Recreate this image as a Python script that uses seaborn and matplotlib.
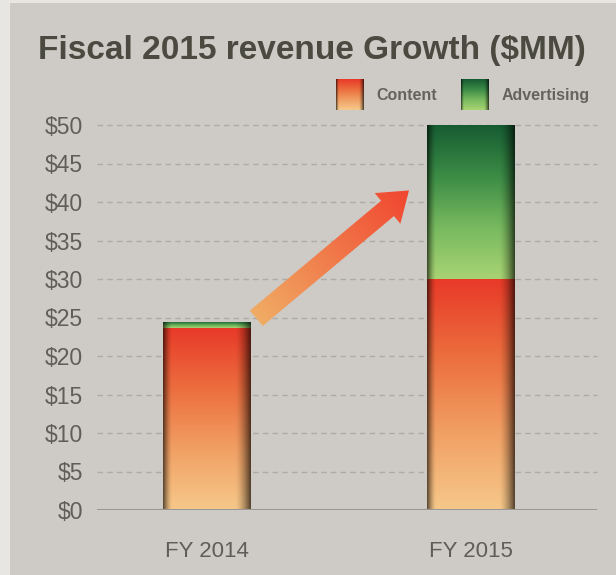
import numpy as np
import matplotlib
matplotlib.use("Agg")
import matplotlib.pyplot as plt
import matplotlib.patches as mpatches
from matplotlib.transforms import IdentityTransform, Bbox, TransformedBbox
from matplotlib.image import BboxImage
from matplotlib.legend_handler import HandlerBase
import seaborn as sns
import pandas as pd

# Revenue by fiscal year ($MM)
years = ["FY 2014", "FY 2015"]
content = [23.6, 30.0]
advertising = [0.8, 20.0]
y_ticks = [0, 5, 10, 15, 20, 25, 30, 35, 40, 45, 50]
y_tick_labels = ["$" + str(v) for v in y_ticks]
series_names = ["Content", "Advertising"]

totals = [c + a for c, a in zip(content, advertising)]
df = pd.DataFrame({"year": years, "content": content, "total": totals})

sns.set_theme(style="white")
plt.rcParams["font.family"] = ["Liberation Sans", "DejaVu Sans"]

PANEL = "#cecac6"
fig = plt.figure(figsize=(6.16, 5.75), dpi=100, facecolor="#e8e6e3")
# paper panel behind the chart
fig.patches.append(mpatches.Rectangle((10 / 616, 0), 1, 1 - 3 / 575,
                                      transform=fig.transFigure,
                                      facecolor=PANEL, edgecolor="none", zorder=-10))

ax = fig.add_axes([97 / 616, 1 - 510 / 575, (597 - 97) / 616, (510 - 125) / 575])
ax.set_facecolor("none")

# colour ramps (top -> bottom)
content_stops = np.array([[232, 58, 40], [236, 110, 62], [241, 160, 100], [246, 200, 138]]) / 255
advert_stops = np.array([[22, 92, 50], [60, 140, 70], [120, 185, 95], [168, 212, 115]]) / 255


def ramp(stops, n):
    t = np.linspace(0, 1, n)
    pos = np.linspace(0, 1, len(stops))
    return np.stack([np.interp(t, pos, stops[:, k]) for k in range(3)], axis=1)


def bar_image(stops, h=200, w=120):
    col = ramp(stops, h)[:, None, :]
    x = np.linspace(0, 1, w)
    shade = 1 - 0.62 * np.clip((0.10 - x) / 0.10, 0, 1) ** 1.5 \
              - 0.66 * np.clip((x - 0.82) / 0.18, 0, 1) ** 1.6
    img = col * shade[None, :, None]
    return np.clip(img, 0, 1)


sns.barplot(data=df, x="year", y="total", color="#3c8c46", width=0.333,
            saturation=1, ax=ax, zorder=3)
sns.barplot(data=df, x="year", y="content", color="#e86a3e", width=0.333,
            saturation=1, ax=ax, zorder=3)

patches = list(ax.patches)
n = len(years)
adv_patches, con_patches = patches[:n], patches[n:]
for i, p in enumerate(adv_patches):
    x0, w = p.get_x(), p.get_width()
    p.set_facecolor("none")
    p.set_edgecolor("none")
    im = ax.imshow(bar_image(advert_stops), extent=(x0, x0 + w, content[i], totals[i]),
                   aspect="auto", interpolation="bilinear", zorder=3.5)
    im.set_clip_path(p)
for i, p in enumerate(con_patches):
    x0, w = p.get_x(), p.get_width()
    p.set_facecolor("none")
    p.set_edgecolor("none")
    im = ax.imshow(bar_image(content_stops), extent=(x0, x0 + w, 0, content[i]),
                   aspect="auto", interpolation="bilinear", zorder=4)
    im.set_clip_path(p)

ax.set_xlim(-0.417, 1 + (597 - 471) / 264)
ax.set_ylim(0, 50)
ax.set_yticks(y_ticks)
ax.set_yticklabels(y_tick_labels)
ax.tick_params(axis="y", length=0, pad=10, labelsize=16.5, labelcolor="#5f5e5a")
ax.tick_params(axis="x", length=0, pad=22, labelsize=16, labelcolor="#5f5e5a")
ax.set_xlabel("")
ax.set_ylabel("")
for s in ax.spines.values():
    s.set_visible(False)

for v in y_ticks[1:]:
    ax.axhline(v, color="#aeaba7", lw=1.0, ls=(0, (4, 3)), zorder=1, clip_on=False)
ax.axhline(0, color="#9a9794", lw=2.2, zorder=5)

# growth arrow from the FY 2014 bar towards FY 2015 (display coordinates)
tail = ax.transData.transform((0 + 0.333 / 2 + 0.02, totals[0] + 0.5))
tip = ax.transData.transform((0.765, 41.5))
d = tip - tail
arrow = mpatches.FancyArrow(tail[0], tail[1], d[0], d[1], width=20, head_width=40,
                            head_length=28, length_includes_head=True,
                            transform=IdentityTransform(), facecolor="none",
                            edgecolor="none")
fig.add_artist(arrow)
inv = ax.transData.inverted()
lo = inv.transform(tail - 40)
hi = inv.transform(tip + 40)
H, W = 160, 200
xs_d = np.linspace(tail[0] - 40, tip[0] + 40, W)
ys_d = np.linspace(tip[1] + 40, tail[1] - 40, H)
XX, YY = np.meshgrid(xs_d, ys_d)
u = d / np.hypot(*d)
t = np.clip(((XX - tail[0]) * u[0] + (YY - tail[1]) * u[1]) / np.hypot(*d), 0, 1)
c0 = np.array([240, 172, 100]) / 255
c1 = np.array([240, 70, 48]) / 255
arr_img = c0[None, None, :] * (1 - t[..., None]) + c1[None, None, :] * t[..., None]
aim = ax.imshow(arr_img, extent=(lo[0], hi[0], lo[1], hi[1]), aspect="auto",
                interpolation="bilinear", zorder=6)
aim.set_clip_path(arrow)
ax.set_xlim(-0.417, 1 + (597 - 471) / 264)
ax.set_ylim(0, 50)


# gradient legend swatches
class GradientHandler(HandlerBase):
    def __init__(self, stops):
        super().__init__()
        self.stops = stops

    def create_artists(self, legend, orig_handle, xdescent, ydescent, width, height,
                       fontsize, trans):
        bb = TransformedBbox(Bbox.from_bounds(-xdescent, -ydescent - 6, width, height + 12),
                             trans)
        img = BboxImage(bb, interpolation="bilinear")
        img.set_data(bar_image(self.stops, 60, 40))
        return [img]


h_content = mpatches.Patch(color="#e86a3e", label=series_names[0])
h_adv = mpatches.Patch(color="#3c8c46", label=series_names[1])
leg = fig.legend(handles=[h_content, h_adv], labels=series_names, ncol=2,
                 loc="center right", bbox_to_anchor=(598 / 616, 1 - 95 / 575),
                 frameon=False, fontsize=11.5, handlelength=1.75, handleheight=1.0,
                 handletextpad=0.8, columnspacing=1.5, borderpad=0,
                 handler_map={h_content: GradientHandler(content_stops),
                              h_adv: GradientHandler(advert_stops)})
for txt in leg.get_texts():
    txt.set_color("#65635f")
    txt.set_fontweight("bold")

fig.text(0.5 + 4 / 616, 1 - 50 / 575, "Fiscal 2015 revenue Growth ($MM)",
         ha="center", va="center", fontsize=24, fontweight="bold", color="#4a4a40")

fig.savefig("out.png", dpi=100, facecolor=fig.get_facecolor())
